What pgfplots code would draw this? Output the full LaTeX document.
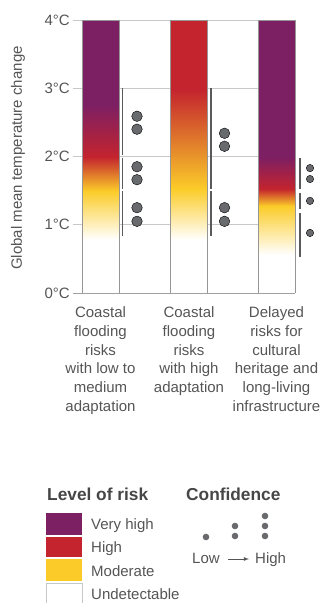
\documentclass[border=0pt]{standalone}
\usepackage{pgfplots}
\pgfplotsset{compat=1.18}
\usepackage{fontspec}
\setmainfont{Liberation Sans}
\definecolor{rpurple}{RGB}{125,31,99}
\definecolor{rred}{RGB}{196,36,46}
\definecolor{ryellow}{RGB}{251,204,41}
\definecolor{dotgray}{RGB}{105,106,109}
\definecolor{linegray}{RGB}{90,90,90}
\definecolor{gridgray}{RGB}{200,200,200}
\definecolor{bargray}{RGB}{150,150,150}
\definecolor{txtgray}{RGB}{85,85,85}
\definecolor{titlegray}{RGB}{70,70,70}

\pgfplotstableread{
x y c
82 0 0
119 0 0
82 0.78 0
119 0.78 0
82 1.5 1
119 1.5 1
82 2.0 2
119 2.0 2
82 2.75 3
119 2.75 3
82 4 3
119 4 3
}\barA
\pgfplotstableread{
x y c
170 0 0
207 0 0
170 0.78 0
207 0.78 0
170 1.52 1
207 1.52 1
170 2.97 2
207 2.97 2
170 4 2
207 4 2
}\barB
\pgfplotstableread{
x y c
258 0 0
295 0 0
258 0.55 0
295 0.55 0
258 1.27 1
295 1.27 1
258 1.53 2
295 1.53 2
258 2.0 3
295 2.0 3
258 4 3
295 4 3
}\barC

\begin{document}
\begin{tikzpicture}[x=1pt,y=1pt]
\useasboundingbox (0,0) rectangle (324,603);
\begin{axis}[
  scale only axis, width=222pt, height=273pt,
  at={(73pt,310pt)}, anchor=south west,
  xmin=73, xmax=295, ymin=0, ymax=4,
  clip=false,
  axis line style={draw=none},
  ytick={0,1,2,3,4}, yticklabels={0°C,1°C,2°C,3°C,4°C},
  ymajorgrids, grid style={gridgray, line width=0.9pt},
  major tick length=0pt,
  yticklabel style={font=\fontsize{15}{18}\selectfont, text=txtgray, inner sep=0pt, xshift=-3pt},
  xtick={100.5,189,276.5},
  xticklabels={{Coastal\\flooding\\risks\\with low to\\medium\\adaptation},
               {Coastal\\flooding\\risks\\with high\\adaptation},
               {Delayed\\risks for\\cultural\\heritage and\\long-living\\infrastructure}},
  xticklabel style={align=center, font=\fontsize{15}{18.8}\selectfont, text=txtgray, anchor=north, inner sep=0pt, yshift=-13.5pt},
  colormap={risk}{rgb255=(255,255,255) rgb255=(251,204,41) rgb255=(196,36,46) rgb255=(125,31,99)},
  point meta min=0, point meta max=3,
  /pgf/number format/assume math mode=true,
]
\addplot[surf, shader=interp, mesh/cols=2, point meta=explicit] table[meta=c] {\barA};
\addplot[surf, shader=interp, mesh/cols=2, point meta=explicit] table[meta=c] {\barB};
\addplot[surf, shader=interp, mesh/cols=2, point meta=explicit] table[meta=c] {\barC};
% bar outlines
\addplot[bargray, line width=0.9pt, no marks] coordinates {(82,0)(82,4)(119,4)(119,0)};
\addplot[bargray, line width=0.9pt, no marks] coordinates {(170,0)(170,4)(207,4)(207,0)};
\addplot[bargray, line width=0.9pt, no marks] coordinates {(258,0)(258,4)(295,4)(295,0)};
\addplot[gridgray!80!black, line width=0.9pt, no marks] coordinates {(73,0)(295,0)};
% confidence ranges
\addplot[linegray, line width=1.4pt, no marks] coordinates {(122.7,3.0)(122.7,2.02)};
\addplot[linegray, line width=1.4pt, no marks] coordinates {(122.7,1.98)(122.7,1.53)};
\addplot[linegray, line width=1.4pt, no marks] coordinates {(122.7,1.49)(122.7,0.83)};
\addplot[linegray, line width=1.4pt, no marks] coordinates {(211,3.0)(211,1.53)};
\addplot[linegray, line width=1.4pt, no marks] coordinates {(211,1.49)(211,0.83)};
\addplot[linegray, line width=1.4pt, no marks] coordinates {(300,1.98)(300,1.52)};
\addplot[linegray, line width=1.4pt, no marks] coordinates {(300,1.46)(300,1.23)};
\addplot[linegray, line width=1.4pt, no marks] coordinates {(300,1.17)(300,0.53)};
% confidence dots
\addplot[only marks, mark=*, mark size=5.3pt, mark options={fill=dotgray, draw=none}]
  coordinates {(137,2.59)(137,2.40)(137,1.85)(137,1.66)(137,1.25)(137,1.05)};
\addplot[only marks, mark=*, mark size=5.3pt, mark options={fill=dotgray, draw=none}]
  coordinates {(224.5,2.34)(224.5,2.15)(224.5,1.25)(224.5,1.05)};
\addplot[only marks, mark=*, mark size=3.7pt, mark options={fill=dotgray, draw=none}]
  coordinates {(310,1.83)(310,1.67)(310,1.35)(310,0.88)};
\end{axis}
% y label
\node[rotate=90, font=\fontsize{15}{18}\selectfont, text=txtgray] at (18,445) {Global mean temperature change};
% legend: level of risk
\node[anchor=base west, inner sep=0pt, font=\bfseries\fontsize{17.3}{20}\selectfont, text=titlegray] at (47,102) {Level of risk};
\fill[rpurple] (46,68) rectangle (82,90);
\fill[rred] (46,46) rectangle (82,66);
\fill[ryellow] (46,22) rectangle (82,44);
\draw[gridgray, line width=0.8pt] (46,-1) rectangle (82,20);
\node[anchor=base west, inner sep=0pt, font=\fontsize{15}{18}\selectfont, text=txtgray] at (91,73) {Very high};
\node[anchor=base west, inner sep=0pt, font=\fontsize{15}{18}\selectfont, text=txtgray] at (91,50) {High};
\node[anchor=base west, inner sep=0pt, font=\fontsize{15}{18}\selectfont, text=txtgray] at (91,27) {Moderate};
\node[anchor=base west, inner sep=0pt, font=\fontsize{15}{18}\selectfont, text=txtgray] at (91,4) {Undetectable};
% legend: confidence
\node[anchor=base west, inner sep=0pt, font=\bfseries\fontsize{17.3}{20}\selectfont, text=titlegray] at (186,102) {Confidence};
\fill[dotgray] (206,66) circle (3.3);
\fill[dotgray] (235,77) circle (3.3);
\fill[dotgray] (235,67) circle (3.3);
\fill[dotgray] (265,87) circle (3.3);
\fill[dotgray] (265,77) circle (3.3);
\fill[dotgray] (265,67) circle (3.3);
\node[anchor=base west, inner sep=0pt, font=\fontsize{15}{18}\selectfont, text=txtgray] at (192,39) {Low};
\draw[-latex, txtgray, line width=0.8pt] (228,44) -- (249,44);
\node[anchor=base west, inner sep=0pt, font=\fontsize{15}{18}\selectfont, text=txtgray] at (255,39) {High};
\end{tikzpicture}
\end{document}
